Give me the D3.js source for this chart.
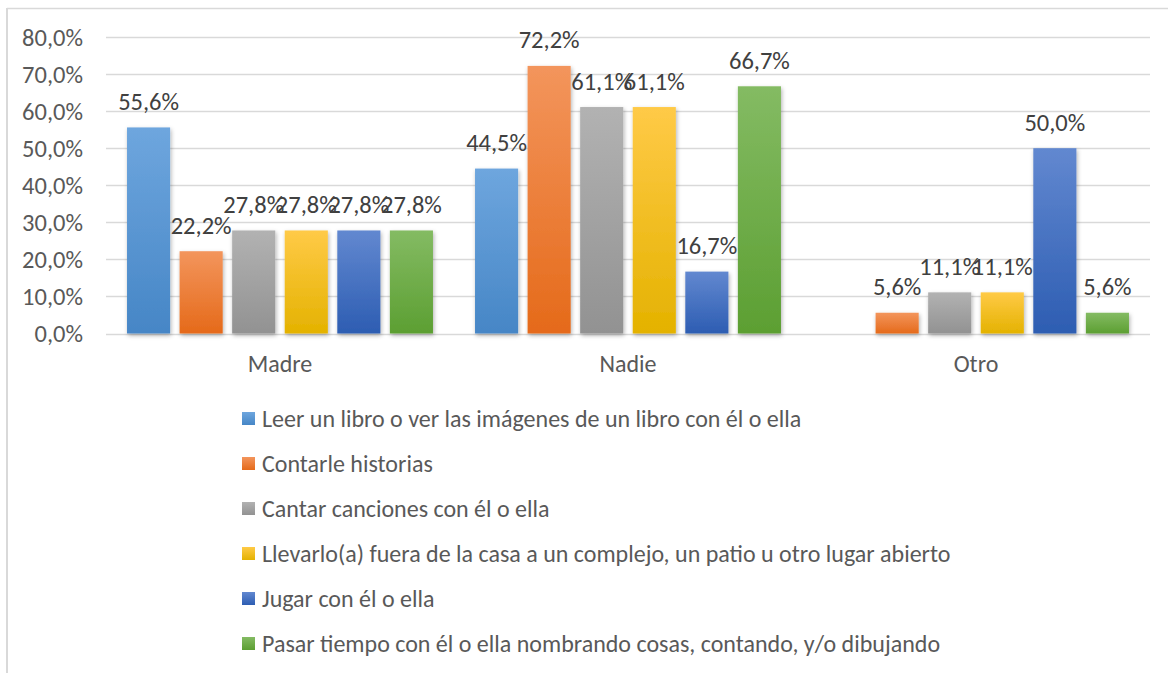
<!DOCTYPE html>
<html>
<head>
<meta charset="utf-8">
<script src="https://cdn.jsdelivr.net/npm/d3@7/dist/d3.min.js"></script>
<style>
html,body{margin:0;padding:0;background:#fff;}
svg{display:block;}
</style>
</head>
<body>
<svg id="chart" width="1168" height="673"></svg>
<script>
const categories = ["Madre", "Nadie", "Otro"];
const seriesNames = [
  "Leer un libro o ver las imágenes de un libro con él o ella",
  "Contarle historias",
  "Cantar canciones con él o ella",
  "Llevarlo(a) fuera de la casa a un complejo, un patio u otro lugar abierto",
  "Jugar con él o ella",
  "Pasar tiempo con él o ella nombrando cosas, contando, y/o dibujando"
];
const leerValues     = [55.6, 44.5, 0];
const contarValues   = [22.2, 72.2, 5.6];
const cantarValues   = [27.8, 61.1, 11.1];
const llevarValues   = [27.8, 61.1, 11.1];
const jugarValues    = [27.8, 16.7, 50.0];
const pasarValues    = [27.8, 66.7, 5.6];
const seriesValues = [leerValues, contarValues, cantarValues, llevarValues, jugarValues, pasarValues];
const yTicks = [0, 10, 20, 30, 40, 50, 60, 70, 80];
const colorsTop    = ["#6ea6de", "#f3955c", "#b2b2b2", "#ffca47", "#6288d0", "#84bb63"];
const colorsBottom = ["#4686c6", "#e56a1a", "#929292", "#e4b200", "#2d5db2", "#5c9f32"];

const svg = d3.select("#chart");
const FONT = "Carlito, Calibri, 'Open Sans', sans-serif";

// border (top and left visible)
svg.append("line").attr("x1", 7).attr("x2", 1168).attr("y1", 8.5).attr("y2", 8.5)
  .attr("stroke", "#d9d9d9").attr("stroke-width", 1.5);
svg.append("line").attr("x1", 7).attr("x2", 7).attr("y1", 8).attr("y2", 673)
  .attr("stroke", "#d9d9d9").attr("stroke-width", 2);

const defs = svg.append("defs");
colorsTop.forEach((c, i) => {
  const g = defs.append("linearGradient").attr("id", "grad" + i)
    .attr("x1", 0).attr("y1", 0).attr("x2", 0).attr("y2", 1);
  g.append("stop").attr("offset", "0%").attr("stop-color", colorsTop[i]);
  g.append("stop").attr("offset", "100%").attr("stop-color", colorsBottom[i]);
});
const f = defs.append("filter").attr("id", "shadow").attr("x", "-20%").attr("y", "-20%").attr("width", "150%").attr("height", "150%");
f.append("feDropShadow").attr("dx", 1).attr("dy", 2).attr("stdDeviation", 2)
  .attr("flood-color", "#000").attr("flood-opacity", 0.3);

const plotLeft = 106, plotRight = 1150, plotTop = 37, plotBottom = 333.5;
const x0 = d3.scaleBand().domain(categories).range([plotLeft, plotRight]).paddingInner(0).paddingOuter(0);
const x1 = d3.scaleBand().domain(d3.range(seriesNames.length))
  .range([0, x0.bandwidth()]).paddingInner(0.18).paddingOuter(0.4);
const y = d3.scaleLinear().domain([0, 80]).range([plotBottom, plotTop]);

// gridlines
svg.append("g").selectAll("line").data(yTicks).join("line")
  .attr("x1", plotLeft).attr("x2", plotRight)
  .attr("y1", d => Math.round(y(d)) + 0.5).attr("y2", d => Math.round(y(d)) + 0.5)
  .attr("stroke", "#d9d9d9").attr("stroke-width", 1.5);

// y axis labels
const yAxis = d3.axisLeft(y).tickValues(yTicks).tickSize(0).tickPadding(0)
  .tickFormat(d => d3.format(".1f")(d).replace(".", ",") + "%");
const yg = svg.append("g").attr("transform", "translate(83,0)").call(yAxis);
yg.select(".domain").remove();
yg.selectAll("text").attr("font-family", FONT).attr("font-size", 24.5).attr("fill", "#595959").attr("dy", "0.33em");

// bars
const groups = svg.append("g").selectAll("g").data(categories).join("g")
  .attr("transform", d => `translate(${x0(d)},0)`);
groups.each(function(cat, ci) {
  const g = d3.select(this);
  const data = seriesValues.map((vals, si) => ({si, v: vals[ci]}));
  g.selectAll("rect").data(data.filter(d => d.v > 0)).join("rect")
    .attr("x", d => x1(d.si)).attr("width", x1.bandwidth())
    .attr("y", d => y(d.v)).attr("height", d => y(0) - y(d.v))
    .attr("fill", d => `url(#grad${d.si})`)
    .attr("filter", "url(#shadow)");
  g.selectAll("text").data(data.filter(d => d.v > 0)).join("text")
    .attr("x", d => x1(d.si) + x1.bandwidth() / 2)
    .attr("y", d => y(d.v) - 17.5)
    .attr("text-anchor", "middle")
    .attr("font-family", FONT).attr("font-size", 24.5).attr("fill", "#404040")
    .text(d => d3.format(".1f")(d.v).replace(".", ",") + "%");
});

// x axis labels
const xAxis = d3.axisBottom(x0).tickSize(0).tickPadding(0);
const xg = svg.append("g").attr("transform", `translate(0,${plotBottom})`).call(xAxis);
xg.select(".domain").remove();
xg.selectAll("text").attr("font-family", FONT).attr("font-size", 24).attr("fill", "#595959")
  .attr("dy", 0).attr("y", 38.5);

// legend
const legend = svg.append("g").selectAll("g").data(seriesNames).join("g")
  .attr("transform", (d, i) => `translate(242,${419 + i * 45})`);
legend.append("rect").attr("x", 0).attr("y", -7).attr("width", 13).attr("height", 13)
  .attr("fill", (d, i) => `url(#grad${i})`);
legend.append("text").attr("x", 20).attr("y", 0).attr("dy", "0.33em")
  .attr("font-family", FONT).attr("font-size", 24).attr("fill", "#595959")
  .text(d => d);
</script>
</body>
</html>
